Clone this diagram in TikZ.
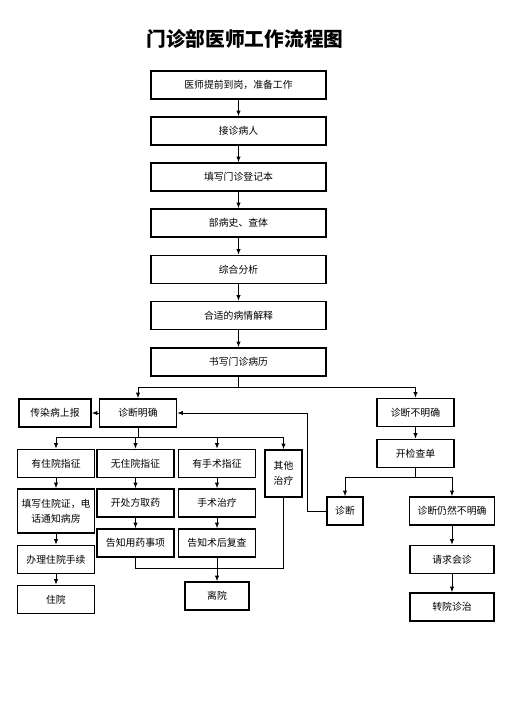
\documentclass[tikz,border=0pt]{standalone}
\usepackage{fontspec}
\setmainfont{Noto Sans CJK SC}
\usetikzlibrary{arrows.meta}

\begin{document}
\begin{tikzpicture}[x=0.025cm,y=-0.025cm,font=\fontsize{7}{8.5}\selectfont,
  box/.style={draw,line width=0.9pt,inner sep=1pt,align=center,minimum width=1.925cm,minimum height=0.7cm},
  wide/.style={box,minimum width=4.375cm},
  flow/.style={line width=0.7pt,-{Latex[length=4pt,width=3pt]}},
  link/.style={line width=0.7pt}]
\useasboundingbox (0,0) rectangle (511,706);
% title
\node[font=\fontsize{14}{16}\selectfont\bfseries] (title) at (245,39) {门诊部医师工作流程图};
% main column
\foreach \n/\y/\lab in {n1/85/{医师提前到岗，准备工作},n2/131/接诊病人,n3/177/填写门诊登记本,
  n4/223/{部病史、查体},n5/269.5/综合分析,n6/315.5/合适的病情解释,n7/362/书写门诊病历}{
  \node[wide] (\n) at (238.5,\y) {\lab};
}
\foreach \a/\b in {n1/n2,n2/n3,n3/n4,n4/n5,n5/n6,n6/n7}{
  \draw[flow] (\a) -- (\b);
}
% first split
\node[box] (dm) at (138,413) {诊断明确};
\node[box,minimum width=1.8cm] (report) at (55,413) {传染病上报};
\node[box] (dbm) at (415.5,412.5) {诊断不明确};
\node[box] (check) at (415.5,453.5) {开检查单};
\coordinate (sp1) at (238.5,387);
\draw[link] (n7) -- (sp1);
\draw[flow] (sp1) -| (dm.north);
\draw[flow] (sp1) -| (dbm.north);
\draw[flow] (dm) -- (report);
\draw[flow] (dbm) -- (check);
% diagnosis clear
\node[box] (inpat) at (56,463.5) {有住院指征};
\node[box] (nopat) at (135.5,463.5) {无住院指征};
\node[box] (surg) at (217,463.5) {有手术指征};
\node[box,minimum width=0.925cm,minimum height=1.175cm] (other) at (283.5,473.5) {其他\\[2pt]治疗};
\coordinate (sp2) at (138,437);
\draw[link] (dm) -- (sp2);
\foreach \t in {inpat,nopat,surg,other}{
  \draw[flow] (sp2) -| (\t.north);
}
\node[box,minimum height=1.1cm] (notice) at (56,511) {填写住院证，电\\[2pt]话通知病房};
\node[box] (admit) at (56,559.5) {办理住院手续};
\node[box] (ward) at (56,599.5) {住院};
\node[box] (presc) at (135.5,503) {开处方取药};
\node[box] (tell1) at (135.5,543) {告知用药事项};
\node[box] (oper) at (217,503) {手术治疗};
\node[box] (tell2) at (217,543) {告知术后复查};
\node[box,minimum width=1.6cm] (leave) at (217,596) {离院};
\foreach \a/\b in {inpat/notice,notice/admit,admit/ward,nopat/presc,presc/tell1,surg/oper,oper/tell2,tell2/leave}{
  \draw[flow] (\a) -- (\b);
}
\coordinate (jn) at (217,568);
\draw[link] (tell1.south) |- (jn);
\draw[link] (other.south) |- (jn);
% diagnosis unclear
\node[box,minimum width=0.9cm] (zd) at (345,511) {诊断};
\node[box,minimum width=2.125cm] (still) at (452,511) {诊断仍然不明确};
\node[box,minimum width=2.1cm] (consult) at (452,559.5) {请求会诊};
\node[box,minimum width=2.1cm] (transfer) at (452,607) {转院诊治};
\coordinate (sp3) at (415.5,477);
\draw[link] (check) -- (sp3);
\draw[flow] (sp3) -| (zd.north);
\draw[flow] (sp3) -| (still.north);
\draw[flow] (still) -- (consult);
\draw[flow] (consult) -- (transfer);
% back to diagnosis clear
\coordinate (bk) at (307,413);
\draw[flow] (zd.west) -| (bk) -- (dm.east);
\end{tikzpicture}
\end{document}
